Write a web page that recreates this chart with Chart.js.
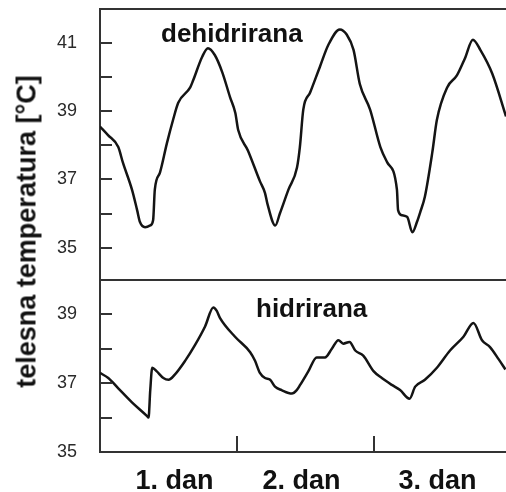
<!DOCTYPE html>
<html lang="sr">
<head>
<meta charset="UTF-8">
<title>telesna temperatura</title>
<script src="https://cdn.jsdelivr.net/npm/chart.js@4.4.1/dist/chart.umd.min.js"></script>
<style>
    * { margin: 0; padding: 0; box-sizing: border-box; }
    body {
        width: 506px;
        height: 492px;
        background: #fff;
        position: relative;
        overflow: hidden;
        font-family: "Liberation Sans", Arial, sans-serif;
    }
    canvas { position: absolute; left: 0; }
    #topChart { top: 0; }
    #bottomChart { top: 270px; }
    .panel-title {
        position: absolute;
        font-weight: bold;
        font-size: 26px;
        line-height: 26px;
        color: #111;
        white-space: nowrap;
    }
    .y-title {
        position: absolute;
        left: -133px;
        top: 218px;
        width: 320px;
        text-align: center;
        font-weight: bold;
        font-size: 27px;
        line-height: 27px;
        color: #111;
        white-space: nowrap;
        transform: rotate(-90deg);
    }
</style>
</head>
<body>
    <canvas id="topChart" width="506" height="290"></canvas>
    <canvas id="bottomChart" width="506" height="222"></canvas>
    <div class="panel-title" style="left:161px; top:20px;">dehidrirana</div>
    <div class="panel-title" style="left:256px; top:295px;">hidrirana</div>
    <div class="y-title">telesna temperatura [°C]</div>

<script>
    // time in hours from the start, temperature in °C
    const hoursDehidrirana = [0, 1.4, 3.2, 4.0, 5.6, 6.5, 7.0, 7.9, 8.8, 9.3, 9.6, 10.5, 11.7, 12.8, 13.7,
        15.8, 16.3, 17.9, 18.9, 20.1, 21.4, 22.8, 23.7, 24.2, 25.9, 28.0, 28.9, 29.3, 30.7, 31.5, 33.0,
        34.5, 35.0, 35.6, 36.8, 38.5, 40.0, 42.0, 43.2, 44.4, 45.5, 47.3, 49.1, 50.3, 52.0, 52.2, 52.9,
        53.8, 54.7, 55.5, 56.1, 56.9, 58.2, 59.0, 60.8, 62.5, 63.9, 65.3, 66.6, 68.7, 71.1];
    const tempDehidrirana = [38.55, 38.3, 37.95, 37.5, 36.7, 36.1, 35.75, 35.6, 35.65, 35.8, 36.7, 37.2, 38.05, 38.75, 39.25,
        39.7, 39.9, 40.6, 40.85, 40.65, 40.15, 39.4, 38.95, 38.45, 37.85, 36.95, 36.6, 36.3, 35.65, 36.0, 36.7,
        37.35, 37.95, 39.05, 39.55, 40.3, 40.95, 41.4, 41.25, 40.8, 39.8, 39.05, 37.95, 37.5, 36.7, 36.1, 35.95,
        35.9, 35.45, 35.75, 36.05, 36.5, 37.8, 38.75, 39.7, 40.05, 40.55, 41.1, 40.8, 40.1, 38.85];

    const hoursHidrirana = [0, 1.45, 3.2, 5.55, 8.2, 8.5, 8.8, 9.15, 9.9, 11.1, 12.0, 13.1, 14.9, 16.6, 18.4,
        19.85, 20.45, 21.0, 23.65, 26.3, 27.15, 28.0, 28.9, 29.8, 30.65, 31.8, 33.6, 34.45, 35.05, 36.5,
        37.95, 39.4, 40.6, 41.75, 42.6, 43.7, 44.7, 46.1, 47.9, 49.35, 51.1, 52.55, 54.2, 55.2, 56.9,
        59.0, 61.3, 63.65, 65.4, 66.9, 68.3, 69.8, 71.0];
    const tempHidrirana = [37.3, 37.15, 36.85, 36.45, 36.05, 36.0, 36.8, 37.45, 37.35, 37.15, 37.1, 37.25, 37.65, 38.1, 38.65,
        39.2, 39.1, 38.9, 38.35, 37.9, 37.65, 37.3, 37.15, 37.1, 36.9, 36.8, 36.7, 36.8, 36.95, 37.35,
        37.75, 37.75, 38.0, 38.25, 38.15, 38.2, 37.95, 37.8, 37.35, 37.15, 36.95, 36.8, 36.55, 36.9, 37.1,
        37.45, 37.95, 38.35, 38.75, 38.25, 38.05, 37.7, 37.4];

    const dayLabels = ['1. dan', '2. dan', '3. dan'];
    const dayLabelHours = [13.05, 35.3, 59.1];
    const dayBoundaries = [24, 48];
    const topMinorTicks = [35, 36, 37, 38, 39, 40, 41];
    const bottomMinorTicks = [36, 37, 38, 39];

    const frameColor = '#333';
    const lineColor = '#141414';

    // tick marks drawn inside the plot area, plus the top frame line
    const innerTicks = {
        id: 'innerTicks',
        afterDraw(chart, args, opts) {
            const { ctx, chartArea: a, scales: { x, y } } = chart;
            ctx.save();
            ctx.strokeStyle = frameColor;
            ctx.lineWidth = 2;
            ctx.beginPath();
            (opts.yTicks || []).forEach(v => {
                const py = Math.round(y.getPixelForValue(v));
                ctx.moveTo(a.left, py);
                ctx.lineTo(a.left + 12, py);
            });
            (opts.xTicks || []).forEach(v => {
                const px = Math.round(x.getPixelForValue(v));
                ctx.moveTo(px, a.bottom);
                ctx.lineTo(px, a.bottom - 16);
            });
            if (opts.topLine) {
                ctx.moveTo(a.left, a.top);
                ctx.lineTo(a.right, a.top);
            }
            ctx.stroke();
            ctx.restore();
        }
    };

    const tickFont = { family: '"Liberation Sans", Arial, sans-serif', size: 18 };

    function oddLabel(value) {
        return Number.isInteger(value) && Math.abs(value % 2) === 1 ? String(value) : '';
    }

    function makeDataset(hours, temps) {
        return {
            data: hours.map((h, i) => ({ x: h, y: temps[i] })),
            borderColor: lineColor,
            borderWidth: 2.5,
            pointRadius: 0,
            fill: false,
            cubicInterpolationMode: 'monotone'
        };
    }

    function noPadding(s) {
        s.paddingTop = 0;
        s.paddingBottom = 0;
        s.paddingLeft = 0;
        s.paddingRight = 0;
    }

    function yAxis(min, max) {
        return {
            min: min,
            max: max,
            afterFit: s => { s.width = 100; noPadding(s); },
            grid: { display: false },
            border: { display: true, color: frameColor, width: 2 },
            ticks: {
                stepSize: 1,
                padding: 15,
                color: '#2a2a2a',
                font: tickFont,
                autoSkip: false,
                callback: oddLabel
            }
        };
    }

    new Chart(document.getElementById('topChart'), {
        type: 'line',
        data: { datasets: [makeDataset(hoursDehidrirana, tempDehidrirana)] },
        options: {
            responsive: false,
            animation: false,
            devicePixelRatio: 1,
            layout: { padding: { top: 9, right: 0, bottom: 10, left: 0 } },
            plugins: {
                legend: { display: false },
                tooltip: { enabled: false },
                innerTicks: { yTicks: topMinorTicks, topLine: true }
            },
            scales: {
                x: {
                    type: 'linear',
                    min: 0,
                    max: 71.1,
                    afterFit: s => { s.height = 0; noPadding(s); },
                    grid: { display: false },
                    border: { display: true, color: frameColor, width: 2 },
                    ticks: { display: false }
                },
                y: yAxis(34.05, 42)
            }
        },
        plugins: [innerTicks]
    });

    new Chart(document.getElementById('bottomChart'), {
        type: 'line',
        data: { datasets: [makeDataset(hoursHidrirana, tempHidrirana)] },
        options: {
            responsive: false,
            animation: false,
            devicePixelRatio: 1,
            layout: { padding: { top: 10, right: 0, bottom: 0, left: 0 } },
            plugins: {
                legend: { display: false },
                tooltip: { enabled: false },
                innerTicks: { yTicks: bottomMinorTicks, xTicks: dayBoundaries }
            },
            scales: {
                x: {
                    type: 'linear',
                    min: 0,
                    max: 71.1,
                    afterFit: s => { s.height = 40; noPadding(s); },
                    afterBuildTicks: s => { s.ticks = dayLabelHours.map(v => ({ value: v })); },
                    grid: { display: false },
                    border: { display: true, color: frameColor, width: 2 },
                    ticks: {
                        autoSkip: false,
                        maxRotation: 0,
                        padding: 5,
                        color: '#111',
                        font: { family: '"Liberation Sans", Arial, sans-serif', size: 27, weight: 'bold' },
                        callback: (value, index) => dayLabels[index]
                    }
                },
                y: yAxis(35, 40)
            }
        },
        plugins: [innerTicks]
    });
</script>
</body>
</html>
